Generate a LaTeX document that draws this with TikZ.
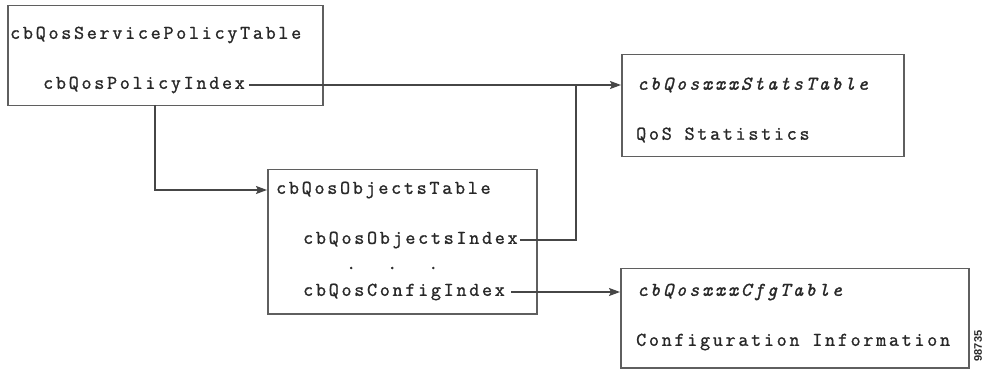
\documentclass[tikz,border=0pt]{standalone}
\usepackage{fontspec}
\setmonofont[LetterSpace=14,FakeBold=1.2]{Latin Modern Mono}
\setsansfont{Liberation Sans}
\usetikzlibrary{arrows.meta}
\definecolor{linec}{RGB}{70,70,70}
\definecolor{boxc}{RGB}{95,95,95}
\definecolor{textc}{RGB}{40,40,40}
\begin{document}
\begin{tikzpicture}[x=1pt,y=-1pt,
  tbox/.style={draw=boxc,line width=1.5pt,anchor=north west,inner sep=0pt},
  lbl/.style={anchor=west,inner sep=0pt,text=textc,font=\fontsize{19.5}{21}\selectfont\ttfamily},
  ilbl/.style={lbl,font=\fontsize{19.5}{21}\selectfont\ttfamily\itshape},
  conn/.style={draw=linec,line width=1.6pt},
  arr/.style={conn,-{Stealth[length=11pt,width=8pt,inset=2pt]}}]
\useasboundingbox[fill=white] (0,0) rectangle (985,371);
% boxes
\node[tbox,minimum width=315pt,minimum height=100pt] (box1) at (7,5) {};
\node[tbox,minimum width=269pt,minimum height=144pt] (box2) at (267,169) {};
\node[tbox,minimum width=282pt,minimum height=102pt] (box3) at (621,54) {};
\node[tbox,minimum width=348pt,minimum height=99pt] (box4) at (620,268) {};
% texts
\node[lbl] (sptab) at (10,35) {cbQosServicePolicyTable};
\node[lbl] (pidx) at (43,85) {cbQosPolicyIndex};
\node[lbl] (objtab) at (276,190) {cbQosObjectsTable};
\node[lbl] (objidx) at (303,240) {cbQosObjectsIndex};
\node[lbl] (dots) at (346,268) {.\hspace{31pt}.\hspace{31pt}.};
\node[lbl] (cfgidx) at (303,292) {cbQosConfigIndex};
\node[ilbl] (stattab) at (637,85) {cbQosxxxStatsTable};
\node[lbl] (qosstat) at (636,135) {QoS Statistics};
\node[ilbl] (cfgtab) at (637,292) {cbQosxxxCfgTable};
\node[lbl] (cfginfo) at (636,342) {Configuration Information};
\node[anchor=center,rotate=90,inner sep=0pt,text=textc,font=\sffamily\bfseries\fontsize{11}{12}\selectfont] (fig) at (978,346) {98735};
% connectors
\coordinate (t1) at (155,105);
\coordinate (j) at (576,85);
\draw[arr] ([xshift=4pt]pidx.east) -- (pidx -| box3.west);
\draw[arr] (t1) |- (objtab -| box2.west);
\draw[conn] ([xshift=2pt]objidx.east) -| (j);
\draw[arr] ([xshift=6pt]cfgidx.east) -- (cfgidx -| box4.west);
\end{tikzpicture}
\end{document}
